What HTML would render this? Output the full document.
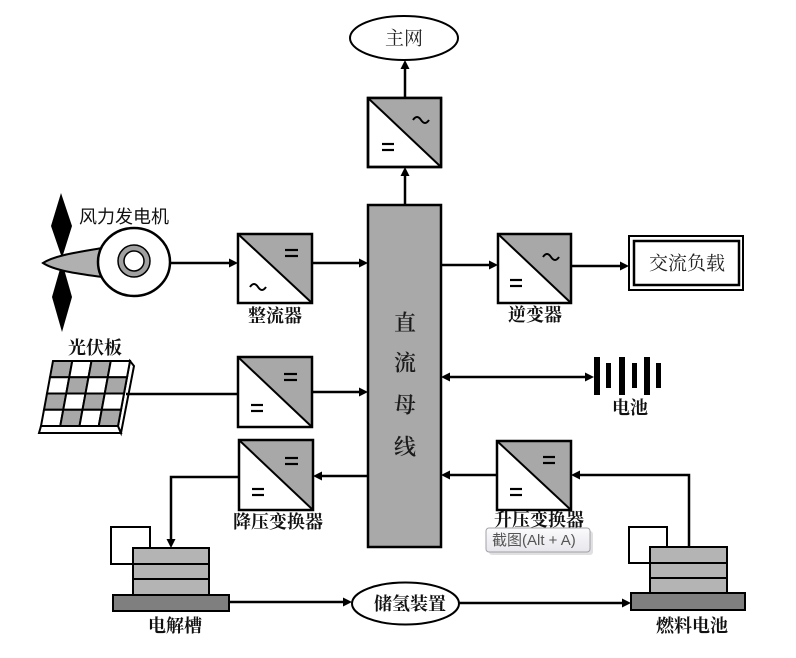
<!DOCTYPE html>
<html><head><meta charset="utf-8"><style>
html,body{margin:0;padding:0;background:#fff;}
svg{display:block;}
.lb{font-family:"Liberation Serif","Noto Serif CJK SC",serif;font-weight:700;font-size:18px;fill:#111;}
.ln{stroke:#000;stroke-width:2.5;fill:none;}
</style></head><body>
<svg width="796" height="658" viewBox="0 0 796 658" xmlns="http://www.w3.org/2000/svg">
<defs>
<linearGradient id="tg" x1="0" y1="0" x2="0" y2="1"><stop offset="0" stop-color="#fbfbfd"/><stop offset="1" stop-color="#e6e6ec"/></linearGradient>
</defs>
<rect width="796" height="658" fill="#fff"/>

<!-- 主网 ellipse -->
<ellipse cx="404" cy="38" rx="54" ry="22" fill="#fff" stroke="#000" stroke-width="2"/>
<text x="404" y="39" text-anchor="middle" dominant-baseline="central" font-family="Liberation Serif,'Noto Serif CJK SC',serif" font-size="19" fill="#222">主网</text>

<!-- Top converter -->
<rect x="368" y="98" width="73" height="69" fill="#fff" stroke="#000" stroke-width="2.5"/>
<polygon points="368,98 441,98 441,167" fill="#a8a8a8"/>
<line x1="368" y1="98" x2="441" y2="167" stroke="#000" stroke-width="2"/>
<rect x="368" y="98" width="73" height="69" fill="none" stroke="#000" stroke-width="2.5"/>
<path d="M413,120 q4,-6 8,0 t8,0" stroke="#000" stroke-width="2" fill="none"/>
<line x1="382" y1="144" x2="394" y2="144" stroke="#000" stroke-width="2.2"/>
<line x1="382" y1="150" x2="394" y2="150" stroke="#000" stroke-width="2.2"/>

<!-- arrows top -->
<line x1="405" y1="205" x2="405" y2="175" class="ln"/>
<polygon points="405,167 400.5,176 409.5,176" fill="#000"/>
<line x1="405" y1="98" x2="405" y2="68" class="ln"/>
<polygon points="405,60 400.5,69 409.5,69" fill="#000"/>

<!-- Bus -->
<rect x="368" y="205" width="73" height="342" fill="#a9a9a9" stroke="#000" stroke-width="2.5"/>
<g font-family="Liberation Serif,'Noto Serif CJK SC',serif" font-size="22" font-weight="600" fill="#1a1a1a" text-anchor="middle" dominant-baseline="central">
<text x="405" y="323">直</text>
<text x="405" y="363">流</text>
<text x="405" y="405">母</text>
<text x="405" y="447">线</text>
</g>

<!-- Wind turbine -->
<path d="M61,193 L72,226 L62,258 L51,226 Z" fill="#000"/>
<path d="M62,262 L72,297 L62,332 L52,297 Z" fill="#000"/>
<path d="M43,263 C55,255 80,252 102,248 L102,277 C80,274 55,271 43,263 Z" fill="#b0b0b0" stroke="#000" stroke-width="2"/>
<ellipse cx="134" cy="262" rx="36" ry="34" fill="#fff" stroke="#000" stroke-width="2.5"/>
<circle cx="134" cy="261" r="16" fill="#a0a0a0" stroke="#000" stroke-width="1.5"/>
<circle cx="134" cy="261" r="10" fill="#fff" stroke="#000" stroke-width="1.5"/>
<text x="124" y="217" text-anchor="middle" dominant-baseline="central" font-family="Liberation Sans,'Noto Sans CJK SC',sans-serif" font-size="18" fill="#111">风力发电机</text>

<!-- gen -> rectifier -->
<line x1="170" y1="263" x2="230" y2="263" class="ln"/>
<polygon points="238,263 229,258.5 229,267.5" fill="#000"/>

<!-- Rectifier -->
<rect x="238" y="234" width="74" height="69" fill="#fff"/>
<polygon points="238,234 312,234 312,303" fill="#a8a8a8"/>
<line x1="238" y1="234" x2="312" y2="303" stroke="#000" stroke-width="2"/>
<rect x="238" y="234" width="74" height="69" fill="none" stroke="#000" stroke-width="2.5"/>
<line x1="285" y1="250" x2="298" y2="250" stroke="#000" stroke-width="2.2"/>
<line x1="285" y1="256" x2="298" y2="256" stroke="#000" stroke-width="2.2"/>
<path d="M250,287 q4,-6 8,0 t8,0" stroke="#000" stroke-width="2" fill="none"/>
<text x="275" y="316" text-anchor="middle" dominant-baseline="central" class="lb">整流器</text>

<line x1="312" y1="263" x2="360" y2="263" class="ln"/>
<polygon points="368,263 359,258.5 359,267.5" fill="#000"/>

<!-- bus -> inverter -->
<line x1="441" y1="265" x2="490" y2="265" class="ln"/>
<polygon points="498,265 489,260.5 489,269.5" fill="#000"/>

<!-- Inverter -->
<rect x="498" y="234" width="73" height="69" fill="#fff"/>
<polygon points="498,234 571,234 571,303" fill="#a8a8a8"/>
<line x1="498" y1="234" x2="571" y2="303" stroke="#000" stroke-width="2"/>
<rect x="498" y="234" width="73" height="69" fill="none" stroke="#000" stroke-width="2.5"/>
<path d="M543,257 q4,-6 8,0 t8,0" stroke="#000" stroke-width="2" fill="none"/>
<line x1="510" y1="280" x2="522" y2="280" stroke="#000" stroke-width="2.2"/>
<line x1="510" y1="286" x2="522" y2="286" stroke="#000" stroke-width="2.2"/>
<text x="535" y="315" text-anchor="middle" dominant-baseline="central" class="lb">逆变器</text>

<line x1="571" y1="266" x2="621" y2="266" class="ln"/>
<polygon points="629,266 620,261.5 620,270.5" fill="#000"/>

<!-- AC load -->
<rect x="629" y="236" width="114" height="54" fill="#fff" stroke="#000" stroke-width="2"/>
<rect x="634" y="241" width="105" height="44" fill="none" stroke="#000" stroke-width="2.5"/>
<text x="687" y="264" text-anchor="middle" dominant-baseline="central" font-family="Liberation Serif,'Noto Serif CJK SC',serif" font-size="19" fill="#222">交流负载</text>

<!-- PV panel -->
<text x="95" y="348" text-anchor="middle" dominant-baseline="central" class="lb">光伏板</text>
<polygon points="41,426 118,426 121,433 39,433" fill="#fff" stroke="#000" stroke-width="2"/>
<polygon points="130,361 134,366 121,433 118,426" fill="#fff" stroke="#000" stroke-width="2"/>
<g stroke="#000" stroke-width="2">
<polygon points="53,361 72.25,361 69.25,377.25 50,377.25" fill="#a8a8a8"/>
<polygon points="72.25,361 91.5,361 88.5,377.25 69.25,377.25" fill="#fff"/>
<polygon points="91.5,361 110.75,361 107.75,377.25 88.5,377.25" fill="#a8a8a8"/>
<polygon points="110.75,361 130,361 127,377.25 107.75,377.25" fill="#fff"/>
<polygon points="50,377.25 69.25,377.25 66.25,393.5 47,393.5" fill="#fff"/>
<polygon points="69.25,377.25 88.5,377.25 85.5,393.5 66.25,393.5" fill="#a8a8a8"/>
<polygon points="88.5,377.25 107.75,377.25 104.75,393.5 85.5,393.5" fill="#fff"/>
<polygon points="107.75,377.25 127,377.25 124,393.5 104.75,393.5" fill="#a8a8a8"/>
<polygon points="47,393.5 66.25,393.5 63.25,409.75 44,409.75" fill="#a8a8a8"/>
<polygon points="66.25,393.5 85.5,393.5 82.5,409.75 63.25,409.75" fill="#fff"/>
<polygon points="85.5,393.5 104.75,393.5 101.75,409.75 82.5,409.75" fill="#a8a8a8"/>
<polygon points="104.75,393.5 124,393.5 121,409.75 101.75,409.75" fill="#fff"/>
<polygon points="44,409.75 63.25,409.75 60.25,426 41,426" fill="#fff"/>
<polygon points="63.25,409.75 82.5,409.75 79.5,426 60.25,426" fill="#a8a8a8"/>
<polygon points="82.5,409.75 101.75,409.75 98.75,426 79.5,426" fill="#fff"/>
<polygon points="101.75,409.75 121,409.75 118,426 98.75,426" fill="#a8a8a8"/>
</g>
<line x1="126" y1="394" x2="238" y2="394" class="ln"/>

<!-- PV converter -->
<rect x="238" y="357" width="74" height="70" fill="#fff"/>
<polygon points="238,357 312,357 312,427" fill="#a8a8a8"/>
<line x1="238" y1="357" x2="312" y2="427" stroke="#000" stroke-width="2"/>
<rect x="238" y="357" width="74" height="70" fill="none" stroke="#000" stroke-width="2.5"/>
<line x1="284" y1="374" x2="297" y2="374" stroke="#000" stroke-width="2.2"/>
<line x1="284" y1="380" x2="297" y2="380" stroke="#000" stroke-width="2.2"/>
<line x1="251" y1="405" x2="263" y2="405" stroke="#000" stroke-width="2.2"/>
<line x1="251" y1="411" x2="263" y2="411" stroke="#000" stroke-width="2.2"/>
<line x1="312" y1="392" x2="360" y2="392" class="ln"/>
<polygon points="368,392 359,387.5 359,396.5" fill="#000"/>

<!-- Battery -->
<line x1="449" y1="377" x2="586" y2="377" class="ln"/>
<polygon points="441,377 450,372.5 450,381.5" fill="#000"/>
<polygon points="594,377 585,372.5 585,381.5" fill="#000"/>
<g fill="#000">
<rect x="594" y="357" width="6" height="38"/>
<rect x="606" y="363" width="5" height="25"/>
<rect x="619" y="357" width="6" height="38"/>
<rect x="632" y="363" width="5" height="25"/>
<rect x="644" y="357" width="6" height="38"/>
<rect x="656" y="363" width="5" height="25"/>
</g>
<text x="630" y="408" text-anchor="middle" dominant-baseline="central" class="lb">电池</text>

<!-- Buck converter -->
<line x1="368" y1="476" x2="321" y2="476" class="ln"/>
<polygon points="313,476 322,471.5 322,480.5" fill="#000"/>
<rect x="239" y="440" width="74" height="70" fill="#fff"/>
<polygon points="239,440 313,440 313,510" fill="#a8a8a8"/>
<line x1="239" y1="440" x2="313" y2="510" stroke="#000" stroke-width="2"/>
<rect x="239" y="440" width="74" height="70" fill="none" stroke="#000" stroke-width="2.5"/>
<line x1="285" y1="458" x2="298" y2="458" stroke="#000" stroke-width="2.2"/>
<line x1="285" y1="464" x2="298" y2="464" stroke="#000" stroke-width="2.2"/>
<line x1="252" y1="489" x2="264" y2="489" stroke="#000" stroke-width="2.2"/>
<line x1="252" y1="495" x2="264" y2="495" stroke="#000" stroke-width="2.2"/>
<text x="278" y="522" text-anchor="middle" dominant-baseline="central" class="lb">降压变换器</text>
<polyline points="239,477 171,477 171,540" class="ln"/>
<polygon points="171,548 166.5,539 175.5,539" fill="#000"/>

<!-- Electrolyzer -->
<rect x="111" y="527" width="39" height="37" fill="#fff" stroke="#000" stroke-width="2"/>
<rect x="133" y="548" width="76" height="47" fill="#b4b4b4" stroke="#000" stroke-width="2"/>
<line x1="133" y1="564" x2="209" y2="564" stroke="#000" stroke-width="2"/>
<line x1="133" y1="579" x2="209" y2="579" stroke="#000" stroke-width="2"/>
<rect x="113" y="595" width="116" height="16" fill="#7f7f7f" stroke="#000" stroke-width="2"/>
<text x="175" y="626" text-anchor="middle" dominant-baseline="central" class="lb">电解槽</text>

<line x1="229" y1="602" x2="344" y2="602" class="ln"/>
<polygon points="352,602 343,597.5 343,606.5" fill="#000"/>

<!-- H2 storage -->
<ellipse cx="405.5" cy="603.5" rx="53.5" ry="21" fill="#fff" stroke="#000" stroke-width="2"/>
<text x="410" y="604" text-anchor="middle" dominant-baseline="central" class="lb" font-size="19">储氢装置</text>

<line x1="459" y1="603" x2="623" y2="603" class="ln"/>
<polygon points="631,603 622,598.5 622,607.5" fill="#000"/>

<!-- Fuel cell -->
<rect x="629" y="527" width="38" height="36" fill="#fff" stroke="#000" stroke-width="2"/>
<rect x="650" y="547" width="77" height="46" fill="#b4b4b4" stroke="#000" stroke-width="2"/>
<line x1="650" y1="563" x2="727" y2="563" stroke="#000" stroke-width="2"/>
<line x1="650" y1="578" x2="727" y2="578" stroke="#000" stroke-width="2"/>
<rect x="631" y="593" width="114" height="17" fill="#7f7f7f" stroke="#000" stroke-width="2"/>
<text x="692" y="626" text-anchor="middle" dominant-baseline="central" class="lb">燃料电池</text>

<polyline points="689,547 689,475 579,475" class="ln"/>
<polygon points="571,475 580,470.5 580,479.5" fill="#000"/>

<!-- Boost converter -->
<rect x="497" y="441" width="74" height="69" fill="#fff"/>
<polygon points="497,441 571,441 571,510" fill="#a8a8a8"/>
<line x1="497" y1="441" x2="571" y2="510" stroke="#000" stroke-width="2"/>
<rect x="497" y="441" width="74" height="69" fill="none" stroke="#000" stroke-width="2.5"/>
<line x1="543" y1="457" x2="555" y2="457" stroke="#000" stroke-width="2.2"/>
<line x1="543" y1="463" x2="555" y2="463" stroke="#000" stroke-width="2.2"/>
<line x1="510" y1="489" x2="522" y2="489" stroke="#000" stroke-width="2.2"/>
<line x1="510" y1="495" x2="522" y2="495" stroke="#000" stroke-width="2.2"/>
<line x1="497" y1="475" x2="449" y2="475" class="ln"/>
<polygon points="441,475 450,470.5 450,479.5" fill="#000"/>
<text x="539" y="520" text-anchor="middle" dominant-baseline="central" class="lb">升压变换器</text>

<!-- Tooltip -->
<rect x="489" y="531" width="104" height="24" rx="3" fill="#000" opacity="0.12"/>
<rect x="486" y="528" width="104" height="24" rx="3" fill="url(#tg)" stroke="#a0a0a8" stroke-width="1"/>
<text x="492" y="540.5" dominant-baseline="central" font-family="Liberation Sans,'Noto Sans CJK SC',sans-serif" font-size="15" fill="#555">截图(Alt + A)</text>
</svg>
</body></html>
